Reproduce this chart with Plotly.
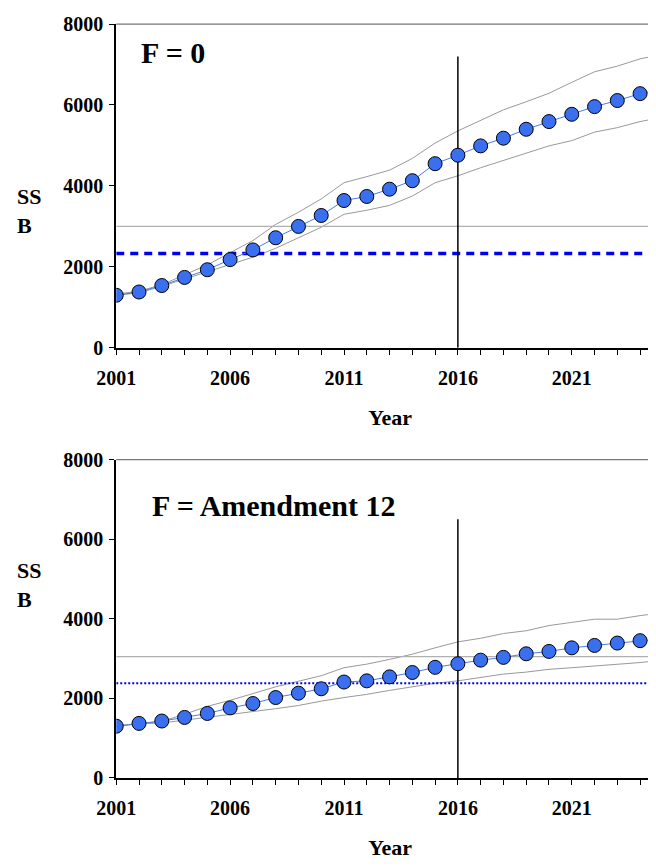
import plotly.graph_objects as go

years = list(range(2001, 2026))

# F = 0
ssb_f0 = [1300, 1380, 1540, 1740, 1930, 2180, 2420, 2720, 3000, 3270, 3640, 3740, 3920,
          4130, 4550, 4760, 4990, 5180, 5400, 5590, 5770, 5960, 6110, 6280, 6380]
upper_f0 = [1330, 1400, 1560, 1800, 2050, 2350, 2650, 3050, 3350, 3680, 4080, 4230, 4390,
            4680, 5060, 5360, 5630, 5880, 6080, 6290, 6560, 6820, 6960, 7140, 7250]
lower_f0 = [1300, 1360, 1520, 1700, 1880, 2060, 2240, 2460, 2720, 2980, 3300, 3400, 3520,
            3750, 4080, 4250, 4450, 4630, 4800, 4990, 5120, 5330, 5440, 5590, 5700]

# F = Amendment 12
ssb_a12 = [1300, 1370, 1430, 1520, 1620, 1760, 1870, 2020, 2130, 2240, 2410, 2440, 2540,
           2650, 2780, 2870, 2960, 3030, 3120, 3180, 3270, 3330, 3390, 3450, 3500]
upper_a12 = [1310, 1370, 1420, 1600, 1800, 1950, 2120, 2290, 2430, 2570, 2770, 2860, 2980,
             3110, 3270, 3420, 3510, 3630, 3700, 3830, 3910, 3990, 3990, 4080, 4150]
lower_a12 = [1300, 1360, 1380, 1450, 1530, 1590, 1660, 1740, 1820, 1930, 2020, 2100, 2200,
             2290, 2380, 2440, 2530, 2610, 2660, 2730, 2770, 2810, 2850, 2900, 2960]

panels = [
    dict(ssb=ssb_f0, up=upper_f0, lo=lower_f0, gray=3000, blue=2330, dash="8px,6px", bw=3.5,
         vtop=7200, label="F = 0", lx=2002.0, ly=7300, dom=[0.608, 0.9815]),
    dict(ssb=ssb_a12, up=upper_a12, lo=lower_a12, gray=3050, blue=2380, dash="2px,2px", bw=2,
         vtop=6500, label="F = Amendment 12", lx=2002.5, ly=6850, dom=[0.112, 0.479]),
]

font = dict(family="Liberation Serif", color="black")
fig = go.Figure()
x_end = 2025.05
x0 = 0.165

for i, p in enumerate(panels):
    xa = "x" if i == 0 else "x2"
    ya = "y" if i == 0 else "y2"
    for band in (p["up"], p["lo"]):
        fig.add_trace(go.Scatter(x=years, y=band, mode="lines", xaxis=xa, yaxis=ya,
                                 line=dict(color="#999999", width=1), showlegend=False))
    fig.add_trace(go.Scatter(x=[2001, x_end], y=[p["gray"]] * 2, mode="lines", xaxis=xa, yaxis=ya,
                             line=dict(color="#b0b0b0", width=1.2), showlegend=False))
    fig.add_trace(go.Scatter(x=[2001, x_end], y=[p["blue"]] * 2, mode="lines", xaxis=xa, yaxis=ya,
                             line=dict(color="#0000ee", width=p["bw"], dash=p["dash"]),
                             showlegend=False))
    fig.add_trace(go.Scatter(x=[2016, 2016], y=[0, p["vtop"]], mode="lines", xaxis=xa, yaxis=ya,
                             line=dict(color="black", width=1.5), showlegend=False))
    fig.add_trace(go.Scatter(x=years, y=p["ssb"], mode="lines+markers", xaxis=xa, yaxis=ya,
                             line=dict(color="#4a7de8", width=1),
                             marker=dict(size=14, color="#3a6ff0", line=dict(color="black", width=1)),
                             showlegend=False))
    fig.add_annotation(x=p["lx"], y=p["ly"], xref=xa, yref=ya, text="<b>%s</b>" % p["label"],
                       showarrow=False, xanchor="left", font=dict(size=30, **font))

    axis_x = dict(range=[2001, x_end], tickvals=[2001, 2006, 2011, 2016, 2021],
                  ticks="outside", ticklen=5, showgrid=False, zeroline=False,
                  showline=True, linecolor="black", linewidth=1.5, automargin=False,
                  domain=[x0, 1.0], anchor=ya,
                  tickfont=dict(size=20, weight="bold", **font), ticklabelstandoff=6,
                  minor=dict(dtick=1, ticks="outside", ticklen=5, tickcolor="black"),
                  tickcolor="black",
                  title=dict(text="<b>Year</b>", font=dict(size=22, **font), standoff=22))
    axis_y = dict(range=[0, 8000], dtick=2000, ticks="outside", ticklen=5, tickcolor="black",
                  showgrid=False, zeroline=False, showline=True, linecolor="black", linewidth=2,
                  domain=p["dom"], anchor=xa, tickfont=dict(size=20, weight="bold", **font),
                  tickformat="d", automargin=False, ticklabelstandoff=2)
    fig.add_annotation(x=0.01, y=(p["dom"][0] + p["dom"][1]) / 2 + 0.005, xref="paper", yref="paper",
                       text="<b>SS<br>B</b>", showarrow=False, align="left", xanchor="left",
                       font=dict(size=22, **font))
    fig.add_shape(type="line", xref="paper", yref="paper", x0=x0, x1=1.0,
                  y0=p["dom"][1], y1=p["dom"][1], line=dict(color="#777777", width=1.2))
    if i == 0:
        fig.update_layout(xaxis=axis_x, yaxis=axis_y)
    else:
        fig.update_layout(xaxis2=axis_x, yaxis2=axis_y)

fig.update_layout(width=656, height=867, margin=dict(l=0, r=0, t=0, b=0),
                  plot_bgcolor="white", paper_bgcolor="white")
fig.write_html("out.html")
